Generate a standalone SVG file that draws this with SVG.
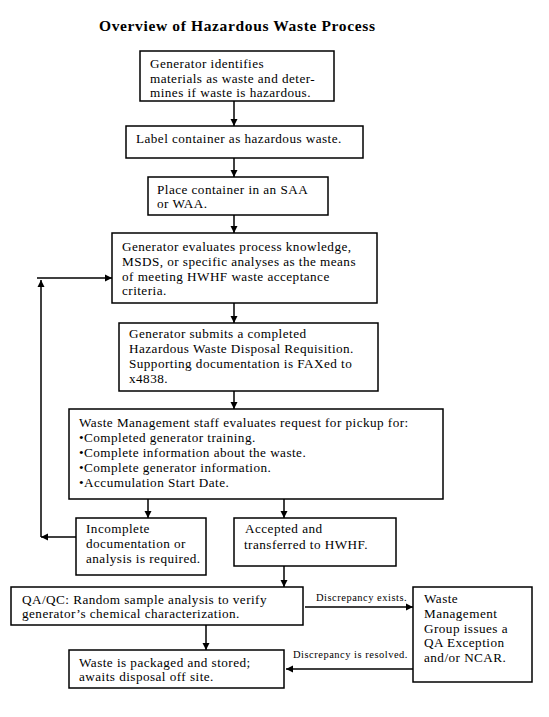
<svg xmlns="http://www.w3.org/2000/svg" width="549" height="717" viewBox="0 0 549 717">
<style>
.box{fill:#fff;stroke:#000;stroke-width:1.5}
.t{font-family:"Liberation Serif","Times New Roman",serif;font-size:13.2px;letter-spacing:0.45px;fill:#000}
.s{font-family:"Liberation Serif","Times New Roman",serif;font-size:10.5px;letter-spacing:0.5px;fill:#000}
.title{font-family:"Liberation Serif","Times New Roman",serif;font-size:15.5px;font-weight:bold;fill:#000}
.c{stroke:#000;stroke-width:1.5;fill:none}
</style>
<defs>
<marker id="ah" markerUnits="userSpaceOnUse" markerWidth="8" markerHeight="8" refX="7" refY="4" orient="auto">
<path d="M0,0.5 L7,4 L0,7.5 Z" fill="#000"/>
</marker>
</defs>
<rect width="549" height="717" fill="#fff"/>
<text class="title" x="99" y="31" textLength="276">Overview of Hazardous Waste Process</text>

<g id="connectors">
<line class="c" x1="234" y1="101" x2="234" y2="126" marker-end="url(#ah)"/>
<line class="c" x1="234" y1="158" x2="234" y2="177" marker-end="url(#ah)"/>
<line class="c" x1="234" y1="215" x2="234" y2="233" marker-end="url(#ah)"/>
<line class="c" x1="234" y1="303" x2="234" y2="323" marker-end="url(#ah)"/>
<line class="c" x1="234" y1="391" x2="234" y2="409" marker-end="url(#ah)"/>
<line class="c" x1="148" y1="499" x2="148" y2="518" marker-end="url(#ah)"/>
<line class="c" x1="284" y1="499" x2="284" y2="518" marker-end="url(#ah)"/>
<line class="c" x1="284" y1="566" x2="284" y2="587" marker-end="url(#ah)"/>
<line class="c" x1="206" y1="625" x2="206" y2="650" marker-end="url(#ah)"/>
<line class="c" x1="76" y1="537" x2="41" y2="537" marker-end="url(#ah)"/>
<line class="c" x1="41" y1="537" x2="41" y2="280" marker-end="url(#ah)"/>
<line class="c" x1="37" y1="278" x2="112" y2="278" marker-end="url(#ah)"/>
<line class="c" x1="305" y1="607" x2="413" y2="607" marker-end="url(#ah)"/>
<line class="c" x1="413" y1="669" x2="286" y2="669" marker-end="url(#ah)"/>
<text class="s" x="316" y="601">Discrepancy exists.</text>
<text class="s" x="293" y="658">Discrepancy is resolved.</text>
</g>

<g id="n1">
<rect class="box" x="140" y="51" width="194" height="50"/>
<text class="t" x="150" y="68">Generator identifies</text>
<text class="t" x="150" y="83">materials as waste and deter-</text>
<text class="t" x="150" y="97">mines if waste is hazardous.</text>
</g>
<g id="n2">
<rect class="box" x="126" y="126" width="237" height="32"/>
<text class="t" x="136" y="143">Label container as hazardous waste.</text>
</g>
<g id="n3">
<rect class="box" x="148" y="177" width="180" height="38"/>
<text class="t" x="157" y="194">Place container in an SAA</text>
<text class="t" x="157" y="208">or WAA.</text>
</g>
<g id="n4">
<rect class="box" x="112" y="233" width="265" height="70"/>
<text class="t" x="122" y="251">Generator evaluates process knowledge,</text>
<text class="t" x="122" y="266">MSDS, or specific analyses as the means</text>
<text class="t" x="122" y="281">of meeting HWHF waste acceptance</text>
<text class="t" x="122" y="295">criteria.</text>
</g>
<g id="n5">
<rect class="box" x="119" y="323" width="259" height="68"/>
<text class="t" x="129" y="338">Generator submits a completed</text>
<text class="t" x="129" y="353">Hazardous Waste Disposal Requisition.</text>
<text class="t" x="129" y="368">Supporting documentation is FAXed to</text>
<text class="t" x="129" y="383">x4838.</text>
</g>
<g id="n6">
<rect class="box" x="69" y="409" width="374" height="90"/>
<text class="t" x="79" y="427">Waste Management staff evaluates request for pickup for:</text>
<text class="t" x="79" y="442">•Completed generator training.</text>
<text class="t" x="79" y="457">•Complete information about the waste.</text>
<text class="t" x="79" y="472">•Complete generator information.</text>
<text class="t" x="79" y="487">•Accumulation Start Date.</text>
</g>
<g id="n7">
<rect class="box" x="76" y="518" width="130" height="57"/>
<text class="t" x="86" y="533">Incomplete</text>
<text class="t" x="86" y="548">documentation or</text>
<text class="t" x="86" y="563">analysis is required.</text>
</g>
<g id="n8">
<rect class="box" x="234" y="518" width="162" height="48"/>
<text class="t" x="245" y="533">Accepted and</text>
<text class="t" x="244" y="549">transferred to HWHF.</text>
</g>
<g id="n9">
<rect class="box" x="11" y="587" width="292" height="38"/>
<text class="t" x="22" y="604">QA/QC: Random sample analysis to verify</text>
<text class="t" x="22" y="618">generator’s chemical characterization.</text>
</g>
<g id="n10">
<rect class="box" x="413" y="587" width="119" height="95"/>
<text class="t" x="424" y="603">Waste</text>
<text class="t" x="424" y="618">Management</text>
<text class="t" x="424" y="633">Group issues a</text>
<text class="t" x="424" y="647">QA Exception</text>
<text class="t" x="424" y="662">and/or NCAR.</text>
</g>
<g id="n11">
<rect class="box" x="69" y="650" width="215" height="38"/>
<text class="t" x="79" y="667">Waste is packaged and stored;</text>
<text class="t" x="79" y="681">awaits disposal off site.</text>
</g>
</svg>
